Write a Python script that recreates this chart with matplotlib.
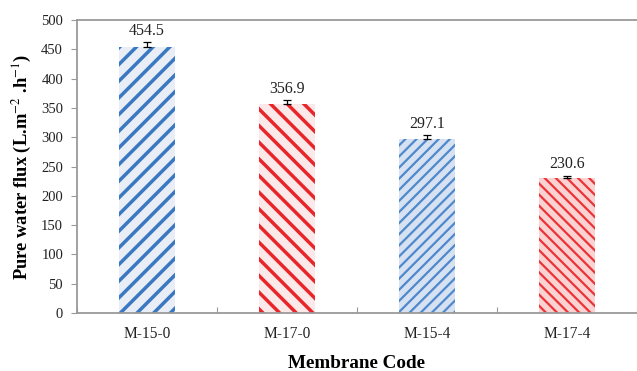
import matplotlib
matplotlib.use("Agg")
import matplotlib.pyplot as plt
import numpy as np

# membrane flux data
codes = ["M-15-0", "M-17-0", "M-15-4", "M-17-4"]
flux = [454.5, 356.9, 297.1, 230.6]
flux_err = [8.0, 6.0, 6.0, 4.0]

colors = ["#3b78c2", "#e8262a", "#4f88cc", "#ea3438"]
fills = ["#e9eef6", "#fbe9e9", "#d6e2f2", "#fad2d2"]
hatches = ["//", "\\\\", "///", "\\\\\\"]
hatch_lw = [2.5, 2.5, 1.6, 1.6]

plt.rcParams["font.family"] = ["Liberation Serif", "DejaVu Serif"]
plt.rcParams["mathtext.fontset"] = "stix"

fig = plt.figure(figsize=(6.37, 3.71), dpi=100)
ax = fig.add_axes([77 / 637, 1 - 313 / 371, 1 - 77 / 637, 293 / 371])

x = np.arange(len(codes))
for i in range(len(codes)):
    with plt.rc_context({"hatch.linewidth": hatch_lw[i]}):
        ax.bar(x[i], flux[i], width=0.405, facecolor=fills[i],
               edgecolor=colors[i], linewidth=0, hatch=hatches[i], zorder=2)
    ax.errorbar(x[i], flux[i], yerr=[[0], [flux_err[i]]], fmt="none",
                ecolor="black", elinewidth=0.9, capsize=3, capthick=0.9, zorder=3)
    ax.annotate(f"{flux[i]:.1f}", (x[i], flux[i] + flux_err[i]),
                xytext=(0, 2.5), textcoords="offset points",
                ha="center", va="bottom", fontsize=11.5, color="#222222")

ax.set_xlim(-0.5, 3.5)
ax.set_ylim(0, 500)
ax.set_yticks(range(0, 501, 50))
ax.set_xticks(np.arange(-0.5, 3.6, 1))
ax.set_xticklabels([])
ax.set_xticks(x, minor=True)
ax.set_xticklabels(codes, minor=True, fontsize=11.2, color="#222222")
ax.tick_params(axis="x", which="minor", length=0, pad=9)
ax.tick_params(axis="x", which="major", length=4, direction="in", color="#999999")
ax.tick_params(axis="y", length=4, direction="out", color="#999999",
               labelsize=10.5, labelcolor="#222222", pad=6)

for side in ["left", "bottom", "top"]:
    ax.spines[side].set_color("#9a9a9a")
    ax.spines[side].set_linewidth(1.3)
ax.spines["right"].set_visible(False)

ax.set_ylabel("Pure water flux (L.m$^{-2}$ .h$^{-1}$)", fontsize=13.3,
              fontweight="bold")
ax.yaxis.set_label_coords(-0.077, 0.5)
ax.set_xlabel("Membrane Code", fontsize=13.8, fontweight="bold", labelpad=10)

fig.savefig("out.png", dpi=100)
